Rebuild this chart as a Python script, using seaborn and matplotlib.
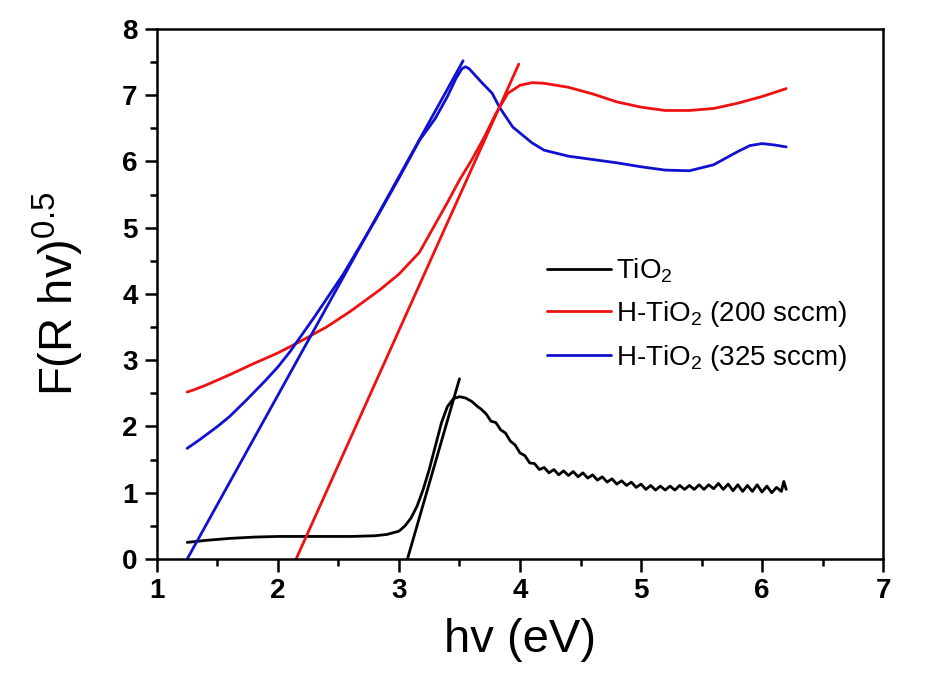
import matplotlib
matplotlib.use('Agg')
import matplotlib.pyplot as plt
import seaborn as sns
import pandas as pd
from matplotlib.ticker import MultipleLocator

# TiO2 spectrum (Kubelka-Munk transformed)
tio2_x = [1.25, 1.4, 1.6, 1.8, 2.0, 2.2, 2.4, 2.6, 2.8, 2.9, 3.0, 3.05, 3.1, 3.15,
          3.2, 3.25, 3.3, 3.35, 3.4, 3.45, 3.5, 3.55, 3.6, 3.65, 3.68,
          3.72, 3.76, 3.80, 3.84, 3.88, 3.92, 3.96, 4.00, 4.04, 4.08, 4.12, 4.16,
          4.20, 4.24, 4.28, 4.32, 4.36, 4.40, 4.44, 4.48, 4.52, 4.56, 4.60, 4.64,
          4.68, 4.72, 4.76, 4.80, 4.84, 4.88, 4.92, 4.96, 5.00, 5.04, 5.08, 5.12,
          5.16, 5.20, 5.24, 5.28, 5.32, 5.36, 5.40, 5.44, 5.48, 5.52, 5.56, 5.60,
          5.64, 5.68, 5.72, 5.76, 5.80, 5.84, 5.88, 5.92, 5.96, 6.00, 6.04, 6.08,
          6.12, 6.16, 6.18, 6.20]
tio2_y = [0.25, 0.28, 0.31, 0.33, 0.34, 0.34, 0.34, 0.34, 0.35, 0.37, 0.42, 0.5, 0.62, 0.8,
          1.05, 1.35, 1.7, 2.05, 2.3, 2.42, 2.45, 2.43, 2.38, 2.3, 2.26,
          2.19, 2.08, 2.06, 1.95, 1.90, 1.78, 1.72, 1.60, 1.56, 1.45, 1.44, 1.35,
          1.38, 1.30, 1.35, 1.27, 1.33, 1.26, 1.32, 1.24, 1.30, 1.22, 1.27, 1.19,
          1.24, 1.16, 1.21, 1.13, 1.18, 1.11, 1.16, 1.08, 1.13, 1.05, 1.11, 1.04,
          1.10, 1.04, 1.10, 1.04, 1.11, 1.05, 1.11, 1.05, 1.12, 1.05, 1.12, 1.06,
          1.14, 1.05, 1.13, 1.03, 1.12, 1.02, 1.11, 1.02, 1.12, 1.01, 1.10, 1.00,
          1.08, 1.02, 1.17, 1.05]

# H-TiO2 (200 sccm)
h200_x = [1.25, 1.3, 1.4, 1.6, 1.8, 2.0, 2.2, 2.4, 2.6, 2.84, 3.0, 3.17, 3.24, 3.4, 3.5,
          3.6, 3.7, 3.8, 3.9, 4.0, 4.1, 4.2, 4.4, 4.6, 4.8, 5.0, 5.2, 5.4, 5.6, 5.8,
          6.0, 6.2]
h200_y = [2.52, 2.55, 2.62, 2.78, 2.95, 3.11, 3.3, 3.5, 3.74, 4.06, 4.3, 4.63, 4.86, 5.38, 5.72,
          6.02, 6.35, 6.72, 7.03, 7.15, 7.19, 7.18, 7.12, 7.02, 6.9, 6.82, 6.77, 6.77, 6.8, 6.88,
          6.98, 7.1]

# H-TiO2 (325 sccm)
h325_x = [1.25, 1.36, 1.5, 1.6, 1.74, 1.9, 2.0, 2.1, 2.3, 2.54, 2.8, 3.0, 3.17, 3.3, 3.4,
          3.47, 3.52, 3.55, 3.58, 3.62, 3.69, 3.77, 3.83, 3.94, 4.1, 4.2, 4.4, 4.6, 4.8,
          5.0, 5.2, 5.4, 5.6, 5.7, 5.8, 5.9, 6.0, 6.1, 6.2]
h325_y = [1.67, 1.81, 2.0, 2.15, 2.4, 2.7, 2.9, 3.13, 3.65, 4.3, 5.1, 5.75, 6.32, 6.65, 6.98,
          7.25, 7.4, 7.43, 7.4, 7.32, 7.18, 7.03, 6.82, 6.52, 6.28, 6.17, 6.08, 6.03, 5.98,
          5.92, 5.87, 5.86, 5.95, 6.05, 6.15, 6.24, 6.27, 6.25, 6.22]

# Tauc tangent lines (end points)
fit_tio2_x = [3.07, 3.50]
fit_tio2_y = [0.0, 2.72]
fit_h200_x = [2.15, 3.99]
fit_h200_y = [0.0, 7.47]
fit_h325_x = [1.25, 3.53]
fit_h325_y = [0.0, 7.52]

labels = ['TiO$_2$', 'H-TiO$_2$ (200 sccm)', 'H-TiO$_2$ (325 sccm)']
colors = ['black', '#ee1111', '#1010d0']

sns.set_style('ticks')
plt.rcParams['font.family'] = ['Liberation Sans', 'DejaVu Sans']
plt.rcParams['mathtext.fontset'] = 'custom'
plt.rcParams['mathtext.rm'] = 'Liberation Sans'
plt.rcParams['mathtext.it'] = 'Liberation Sans'
plt.rcParams['text.color'] = 'black'
plt.rcParams['axes.labelcolor'] = 'black'
plt.rcParams['xtick.color'] = 'black'
plt.rcParams['ytick.color'] = 'black'

fig = plt.figure(figsize=(9.26, 6.82), dpi=100)
ax = fig.add_axes([0.1695, 0.1804, 0.7841, 0.7771])

series = [(tio2_x, tio2_y), (h200_x, h200_y), (h325_x, h325_y)]
fits = [(fit_tio2_x, fit_tio2_y), (fit_h200_x, fit_h200_y), (fit_h325_x, fit_h325_y)]

for (x, y), lab, col in zip(series, labels, colors):
    df = pd.DataFrame({'x': x, 'y': y})
    sns.lineplot(data=df, x='x', y='y', ax=ax, color=col, lw=2, label=lab,
                 sort=False, estimator=None)

for (x, y), col in zip(fits, colors):
    df = pd.DataFrame({'x': x, 'y': y})
    sns.lineplot(data=df, x='x', y='y', ax=ax, color=col, lw=2, legend=False,
                 estimator=None)

ax.set_xlim(1, 7)
ax.set_ylim(0, 8)
ax.xaxis.set_major_locator(MultipleLocator(1))
ax.xaxis.set_minor_locator(MultipleLocator(0.5))
ax.yaxis.set_major_locator(MultipleLocator(1))
ax.yaxis.set_minor_locator(MultipleLocator(0.5))
ax.tick_params(which='major', direction='out', length=9, width=1.8, labelsize=20, pad=5)
ax.tick_params(which='minor', direction='out', length=5, width=1.8)
for lbl in ax.get_xticklabels() + ax.get_yticklabels():
    lbl.set_fontweight('bold')
for sp in ax.spines.values():
    sp.set_linewidth(1.8)
    sp.set_color('black')

ax.set_xlabel('hv (eV)', fontsize=34, labelpad=10)
ax.set_ylabel('F(R hv)$^{0.5}$', fontsize=34, labelpad=26)

ax.legend(loc='upper left', bbox_to_anchor=(0.518, 0.597), frameon=False, fontsize=20,
          handlelength=2.3, handletextpad=0.2, labelspacing=0.5, borderpad=0)

fig.savefig('out.png', dpi=100)
